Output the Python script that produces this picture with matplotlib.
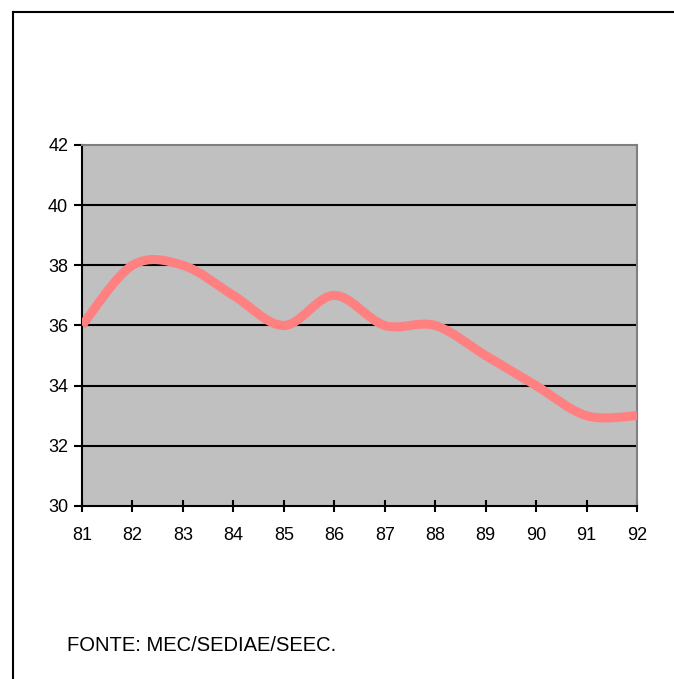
import matplotlib.pyplot as plt
from matplotlib.path import Path
from matplotlib.patches import PathPatch
from matplotlib.lines import Line2D

plt.rcParams['font.family'] = ['Liberation Sans', 'DejaVu Sans']

# values
years = [81, 82, 83, 84, 85, 86, 87, 88, 89, 90, 91, 92]
values = [36, 38, 38, 37, 36, 37, 36, 36, 35, 34, 33, 33]
year_labels = [str(y) for y in years]
y_ticks = [30, 32, 34, 36, 38, 40, 42]
source = "FONTE: MEC/SEDIAE/SEEC."

fig = plt.figure(figsize=(6.74, 6.79), dpi=100)
ax = fig.add_axes([0.1217, 0.2548, 0.8234, 0.5317])
ax.set_facecolor('#c0c0c0')

# smoothed line (Excel style) drawn as bezier curves through the data points
pts = list(zip(years, values))
verts = [pts[0]]
codes = [Path.MOVETO]
n = len(pts)
for i in range(n - 1):
    p0 = pts[max(i - 1, 0)]
    p1 = pts[i]
    p2 = pts[i + 1]
    p3 = pts[min(i + 2, n - 1)]
    c1 = (p1[0] + (p2[0] - p0[0]) / 6, p1[1] + (p2[1] - p0[1]) / 6)
    c2 = (p2[0] - (p3[0] - p1[0]) / 6, p2[1] - (p3[1] - p1[1]) / 6)
    verts += [c1, c2, p2]
    codes += [Path.CURVE4] * 3
ax.add_patch(PathPatch(Path(verts, codes), facecolor='none', edgecolor='#ff8080',
                       lw=6.5, capstyle='butt', joinstyle='round', zorder=3))

ax.set_xlim(81, 92)
ax.set_ylim(30, 42)
ax.set_xticks(years)
ax.set_xticklabels(year_labels)
ax.set_yticks(y_ticks)
for y in y_ticks[1:-1]:
    ax.axhline(y, color='black', lw=1.5, zorder=2)

ax.spines['left'].set_linewidth(1.5)
ax.spines['bottom'].set_linewidth(1.5)
ax.spines['top'].set_color('#808080')
ax.spines['right'].set_color('#808080')
ax.spines['top'].set_linewidth(1.5)
ax.spines['right'].set_linewidth(1.5)
ax.tick_params(axis='x', direction='inout', length=8, width=1.5, labelsize=13, pad=11)
ax.tick_params(axis='y', direction='out', length=6, width=1.5, labelsize=13, pad=4)

fig.text(0.099, 0.05, source, fontsize=14.5, ha='left', va='center')

# outer frame (left and top edges visible)
fig.add_artist(Line2D([13 / 674, 13 / 674], [0, 1 - 12 / 679], transform=fig.transFigure,
                      color='black', lw=1.5))
fig.add_artist(Line2D([13 / 674, 1], [1 - 12 / 679, 1 - 12 / 679], transform=fig.transFigure,
                      color='black', lw=1.5))

fig.savefig('out.png', dpi=100)
